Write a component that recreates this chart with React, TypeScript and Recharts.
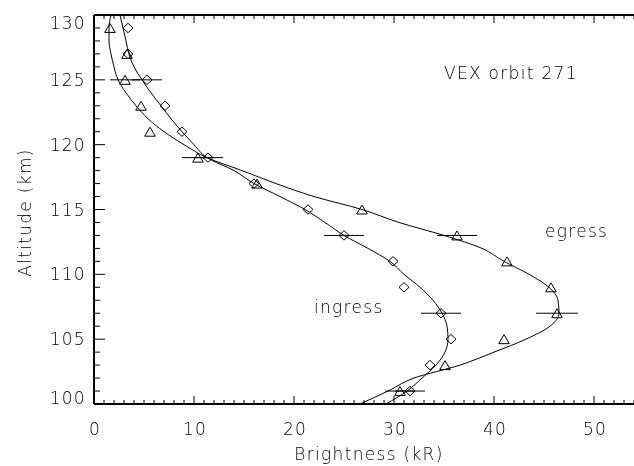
import React from 'react';
import {
  ScatterChart,
  Scatter,
  XAxis,
  YAxis,
  ErrorBar,
  ReferenceDot,
} from 'recharts';

// ─── Data ─────────────────────────────────────────────────────────────────────

// Measured altitudes (km), shared by both profiles
const ALTITUDE = [129, 127, 125, 123, 121, 119, 117, 115, 113, 111, 109, 107, 105, 103, 101];

// Brightness (kR) — ingress (diamonds) and egress (triangles)
const INGRESS = [3.4, 3.4, 5.3, 7.1, 8.8, 11.4, 16.0, 21.4, 25.0, 29.9, 31.0, 34.7, 35.7, 33.6, 31.6];
const EGRESS = [1.6, 3.3, 3.1, 4.7, 5.6, 10.4, 16.3, 26.8, 36.3, 41.3, 45.7, 46.3, 41.0, 35.1, 30.6];

// Horizontal error bars (kR), null where none is drawn
const INGRESS_ERR = [null, null, 1.5, null, null, 1.5, null, null, 2.0, null, null, 2.0, null, null, 1.5];
const EGRESS_ERR = [null, null, 1.5, null, null, 1.6, null, null, 2.0, null, null, 2.1, null, null, 1.5];

// Fitted profiles, sampled every km from 130 down to 100
const FIT_ALTITUDE = [
  130, 129, 128, 127, 126, 125, 124, 123, 122, 121, 120, 119, 118, 117, 116, 115,
  114, 113, 112, 111, 110, 109, 108, 107, 106, 105, 104, 103, 102, 101, 100,
];
const INGRESS_FIT = [
  2.6, 2.9, 3.2, 3.5, 4.0, 4.8, 5.7, 6.7, 7.7, 8.8, 10.0, 11.3, 14.0, 16.0, 18.6, 21.1,
  23.1, 25.0, 27.4, 29.6, 31.0, 32.6, 33.9, 34.8, 35.3, 35.4, 35.1, 34.2, 32.8, 31.3, 29.2,
];
const EGRESS_FIT = [
  1.7, 1.5, 1.5, 1.7, 2.0, 2.4, 3.2, 4.2, 5.4, 7.0, 9.0, 11.3, 14.8, 18.2, 22.0, 26.8,
  30.5, 35.0, 38.8, 41.0, 43.5, 45.5, 46.4, 46.5, 45.6, 43.2, 40.0, 36.6, 32.0, 29.4, 26.6,
];

// Axis ticks
const X_MAJOR = [0, 10, 20, 30, 40, 50];
const Y_MAJOR = [100, 105, 110, 115, 120, 125, 130];
const X_TICKS = Array.from({ length: 55 }, (_, i) => i);
const Y_TICKS = Array.from({ length: 31 }, (_, i) => 100 + i);

const X_DOMAIN: [number, number] = [0, 54];
const Y_DOMAIN: [number, number] = [100, 130];

// ─── Style ────────────────────────────────────────────────────────────────────

const INK = '#000';
const FONT = '"DejaVu Sans", sans-serif';
const textStyle = {
  fontFamily: FONT,
  fontSize: 17,
  fontWeight: 200,
  letterSpacing: 1.3,
  fill: INK,
};

// ─── Ticks (drawn inward, IDL style) ──────────────────────────────────────────

function BottomTick({ x, y, payload }: any) {
  const major = X_MAJOR.includes(payload.value);
  return (
    <g>
      <line x1={x} x2={x} y1={y} y2={y - (major ? 8 : 4)} stroke={INK} />
      {major && (
        <text x={x + 1} y={y + 31} textAnchor="middle" style={textStyle}>
          {payload.value}
        </text>
      )}
    </g>
  );
}

function TopTick({ x, y, payload }: any) {
  const major = X_MAJOR.includes(payload.value);
  return <line x1={x} x2={x} y1={y} y2={y + (major ? 8 : 4)} stroke={INK} />;
}

function LeftTick({ x, y, payload }: any) {
  const v = payload.value;
  const major = Y_MAJOR.includes(v);
  // end labels sit a little inside the frame
  const shift = v === Y_DOMAIN[1] ? 8 : v === Y_DOMAIN[0] ? -6 : 0;
  return (
    <g>
      <line x1={x} x2={x + (major ? 11 : 6)} y1={y} y2={y} stroke={INK} />
      {major && (
        <text x={x - 8} y={y + shift + 6} textAnchor="end" style={textStyle}>
          {v}
        </text>
      )}
    </g>
  );
}

function RightTick({ x, y, payload }: any) {
  const major = Y_MAJOR.includes(payload.value);
  return <line x1={x} x2={x - (major ? 11 : 6)} y1={y} y2={y} stroke={INK} />;
}

function YTitle({ viewBox }: any) {
  const cx = viewBox.x + 25;
  const cy = viewBox.y + viewBox.height / 2 + 3;
  return (
    <text
      x={cx}
      y={cy}
      transform={`rotate(-90 ${cx} ${cy})`}
      textAnchor="middle"
      dominantBaseline="central"
      style={textStyle}
    >
      Altitude (km)
    </text>
  );
}

function XTitle({ viewBox }: any) {
  return (
    <text
      x={viewBox.x + viewBox.width / 2 + 5}
      y={viewBox.y + 56}
      textAnchor="middle"
      style={textStyle}
    >
      Brightness (kR)
    </text>
  );
}

// ─── Markers ──────────────────────────────────────────────────────────────────

function Diamond({ cx, cy }: any) {
  return (
    <path
      d={`M${cx - 5},${cy}L${cx},${cy - 4.7}L${cx + 5},${cy}L${cx},${cy + 4.7}Z`}
      fill="none"
      stroke={INK}
    />
  );
}

function Triangle({ cx, cy }: any) {
  return (
    <path
      d={`M${cx - 5.3},${cy + 4.5}L${cx},${cy - 4.5}L${cx + 5.3},${cy + 4.5}Z`}
      fill="none"
      stroke={INK}
    />
  );
}

const NoMarker = () => <g />;

function Annotation({ viewBox, value }: any) {
  return (
    <text x={viewBox.x} y={viewBox.y + 6} style={textStyle}>
      {value}
    </text>
  );
}

// ─── Chart ────────────────────────────────────────────────────────────────────

export default function App() {
  const ingress = ALTITUDE.map((a, i) => ({ alt: a, kr: INGRESS[i], err: INGRESS_ERR[i] }));
  const egress = ALTITUDE.map((a, i) => ({ alt: a, kr: EGRESS[i], err: EGRESS_ERR[i] }));
  const ingressFit = FIT_ALTITUDE.map((a, i) => ({ alt: a, kr: INGRESS_FIT[i] }));
  const egressFit = FIT_ALTITUDE.map((a, i) => ({ alt: a, kr: EGRESS_FIT[i] }));

  // own compositing layer without a backdrop -> greyscale text antialiasing
  return (
    <div style={{ position: 'absolute', left: 0, top: 0, willChange: 'transform' }}>
      <ScatterChart width={634} height={466} margin={{ top: 0, right: 0, bottom: 0, left: 0 }}>
        <XAxis
          xAxisId="b"
          type="number"
          dataKey="kr"
          domain={X_DOMAIN}
          allowDataOverflow
          ticks={X_TICKS}
          interval={0}
          tickSize={0}
          tickMargin={0}
          tick={<BottomTick />}
          height={62}
          axisLine={{ stroke: INK, strokeWidth: 2 }}
          label={{ content: <XTitle /> }}
        />
        <XAxis
          xAxisId="t"
          orientation="top"
          type="number"
          dataKey="kr"
          domain={X_DOMAIN}
          allowDataOverflow
          ticks={X_TICKS}
          interval={0}
          tickSize={0}
          tickMargin={0}
          tick={<TopTick />}
          height={15}
          axisLine={{ stroke: INK, strokeWidth: 2 }}
        />
        <YAxis
          yAxisId="l"
          type="number"
          dataKey="alt"
          domain={Y_DOMAIN}
          allowDataOverflow
          ticks={Y_TICKS}
          interval={0}
          tickSize={0}
          tickMargin={0}
          tick={<LeftTick />}
          width={94}
          axisLine={{ stroke: INK, strokeWidth: 2 }}
          label={{ content: <YTitle /> }}
        />
        <YAxis
          yAxisId="r"
          orientation="right"
          type="number"
          dataKey="alt"
          domain={Y_DOMAIN}
          allowDataOverflow
          ticks={Y_TICKS}
          interval={0}
          tickSize={0}
          tickMargin={0}
          tick={<RightTick />}
          width={0}
          axisLine={false}
        />

        {/* Fitted profiles */}
        <Scatter
          xAxisId="b"
          yAxisId="l"
          data={ingressFit}
          shape={NoMarker}
          line={{ stroke: INK, strokeWidth: 1 }}
          lineJointType="monotoneY"
          isAnimationActive={false}
        />
        <Scatter
          xAxisId="b"
          yAxisId="l"
          data={egressFit}
          shape={NoMarker}
          line={{ stroke: INK, strokeWidth: 1 }}
          lineJointType="monotoneY"
          isAnimationActive={false}
        />

        {/* Measurements */}
        <Scatter xAxisId="b" yAxisId="l" data={ingress} shape={Diamond} isAnimationActive={false}>
          <ErrorBar dataKey="err" direction="x" width={0} stroke={INK} strokeWidth={1} />
        </Scatter>
        <Scatter xAxisId="b" yAxisId="l" data={egress} shape={Triangle} isAnimationActive={false}>
          <ErrorBar dataKey="err" direction="x" width={0} stroke={INK} strokeWidth={1} />
        </Scatter>

        {/* Annotations */}
        <ReferenceDot xAxisId="b" yAxisId="l" x={35.0} y={125.5} r={0} stroke="none"
          label={{ value: 'VEX orbit 271', content: <Annotation /> }} />
        <ReferenceDot xAxisId="b" yAxisId="l" x={45.1} y={113.35} r={0} stroke="none"
          label={{ value: 'egress', content: <Annotation /> }} />
        <ReferenceDot xAxisId="b" yAxisId="l" x={22.0} y={107.5} r={0} stroke="none"
          label={{ value: 'ingress', content: <Annotation /> }} />
      </ScatterChart>
    </div>
  );
}
